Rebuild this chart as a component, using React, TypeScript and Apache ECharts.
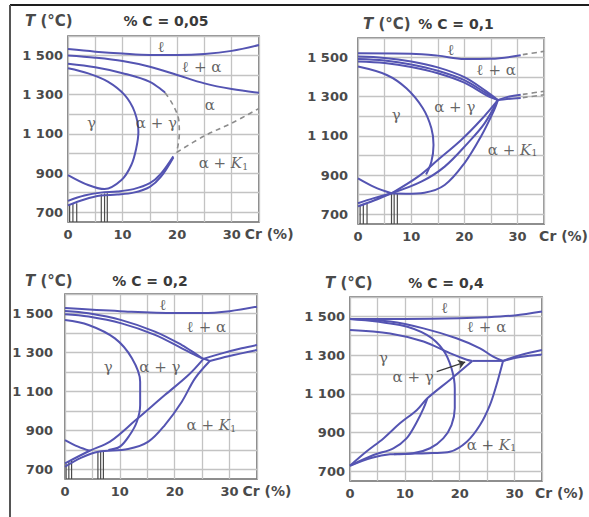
import { useEffect, useRef } from "react";
import * as echarts from "echarts";

// ---------------- DATA ----------------
const yLabelValues = [700, 900, 1100, 1300, 1500];
const xLabelValues = [0, 10, 20, 30];
const panelTitles = ["% C = 0,05", "% C = 0,1", "% C = 0,2", "% C = 0,4"];

// Panel 1 : % C = 0,05
const p1Liquidus = [[0, 1533], [5, 1520], [10, 1510], [15, 1503], [20, 1503], [25, 1508], [30, 1524], [35, 1554]];
const p1Solidus = [[0, 1500], [5, 1489], [10, 1472], [15, 1443], [20, 1401], [25, 1358], [30, 1329], [35, 1310]];
const p1GammaTop = [[0, 1458], [5, 1440], [10, 1410], [15, 1366], [17.8, 1310]];
const p1GammaLoop = [[0, 1435], [3.7, 1409], [7.3, 1367], [10.4, 1298], [12.2, 1213], [12.9, 1111], [12.5, 1026], [11.6, 941], [9.8, 864], [6.7, 818], [3.7, 839], [0, 890]];
const p1Low1 = [[0, 758], [3, 785], [6, 800], [9, 806], [12, 818], [15, 848], [17, 895], [19.3, 985]];
const p1Low2 = [[0, 735], [3, 765], [6, 785], [9, 790], [12, 800], [15, 830], [17, 880], [19.3, 980]];
const p1DashA = [[17.8, 1310], [19.2, 1250], [20.3, 1170], [20.4, 1100], [19.9, 1005]];
const p1DashB = [[19.9, 1005], [25, 1090], [30, 1155], [35, 1230]];
const p1Hatch = [[0.3, 738], [0.9, 742], [1.6, 746], [6.1, 792], [6.7, 795], [7.2, 797]];
const p1Labels = [[17.1, 1545, "ℓ"], [24.5, 1443, "ℓ + α"], [26, 1247, "α"], [4.3, 1154, "γ"], [16.2, 1154, "α + γ"], [28.5, 949, "α + {k|K}{s|1}"]];

// Panel 2 : % C = 0,1
const p2Liquidus = [[0, 1522], [10, 1520], [15, 1510], [20, 1493], [25, 1494], [30.6, 1512]];
const p2LiquidusDash = [[31, 1515], [35, 1532]];
const p2Band1 = [[0, 1505], [5, 1498], [10, 1480], [15, 1450], [20, 1400], [24, 1330], [26.3, 1283]];
const p2Band2 = [[0, 1493], [5, 1485], [10, 1465], [15, 1433], [20, 1385], [24, 1320], [26.3, 1283]];
const p2Band3 = [[0, 1480], [5, 1472], [10, 1452], [15, 1420], [20, 1372], [24, 1310], [26.3, 1283]];
const p2GammaLoop = [[0, 1454], [5.4, 1411], [9.1, 1343], [12.2, 1241], [13.8, 1139], [14.2, 1054], [13.8, 968], [12.8, 903]];
const p2GammaLow = [[0, 883], [3, 840], [6.3, 807]];
const p2Left1 = [[0, 756], [3, 782], [6.3, 807]];
const p2Left2 = [[0, 740], [3, 770], [6.3, 807]];
const p2DiagA = [[6.3, 807], [11.3, 892], [15, 977], [19.4, 1079], [23.1, 1181], [26.3, 1283]];
const p2DiagB = [[6.3, 807], [11.9, 866], [16.3, 943], [20.6, 1062], [23.8, 1164], [26.3, 1283]];
const p2DiagC = [[6.3, 807], [9, 805], [12.5, 810], [16.3, 849], [20, 960], [23.1, 1096], [25.6, 1232], [26.3, 1283]];
const p2Right1 = [[26.3, 1283], [28, 1298], [30.6, 1310]];
const p2Right2 = [[26.3, 1283], [28, 1288], [30.6, 1293]];
const p2RightDash1 = [[31, 1312], [35, 1328]];
const p2RightDash2 = [[31, 1295], [35, 1310]];
const p2Hatch = [[0.4, 748], [1.0, 752], [1.7, 756], [6.3, 805], [6.8, 806], [7.4, 806]];
const p2Labels = [[17.5, 1539, "ℓ"], [26, 1437, "ℓ + α"], [18.2, 1249, "α + γ"], [7.2, 1207, "γ"], [29.1, 1028, "α + {k|K}{s|1}"]];

// Panel 3 : % C = 0,2
const p3Liquidus = [[0, 1528], [10, 1512], [20, 1502], [25, 1502], [30, 1512], [35, 1535]];
const p3Pair1 = [[0, 1513], [4.3, 1501], [10.3, 1466], [16.4, 1407], [21.3, 1338], [23.7, 1295], [25.2, 1266]];
const p3Pair2 = [[0, 1496], [4.3, 1484], [10.3, 1449], [16.4, 1390], [21.3, 1321], [24.3, 1278], [26.4, 1256]];
const p3GammaLoop = [[0, 1466], [4.3, 1441], [9.1, 1372], [12.2, 1270], [13.7, 1150], [13.7, 1030], [13.1, 944], [11.8, 876], [10, 816], [7.9, 799]];
const p3GammaLow = [[0, 850], [2.4, 816], [4.5, 795]];
const p3Diag = [[0, 730], [4.5, 795], [8.2, 842], [12.8, 950], [18.2, 1081], [22.5, 1184], [25.2, 1266]];
const p3SCurve = [[0, 713], [3, 760], [6.1, 790], [11.5, 804], [15.2, 842], [18.2, 927], [21.3, 1047], [23.7, 1167], [26.4, 1256]];
const p3Right1 = [[25.2, 1266], [28.6, 1295], [32.2, 1321], [35, 1338]];
const p3Right2 = [[26.4, 1256], [29.8, 1280], [35, 1312]];
const p3Hatch = [[0.2, 730], [0.7, 738], [1.2, 745], [6.0, 790], [6.5, 791], [7.0, 792]];
const p3Labels = [[17.9, 1544, "ℓ"], [25.8, 1432, "ℓ + α"], [7.9, 1227, "γ"], [17.3, 1227, "α + γ"], [26.7, 927, "α + {k|K}{s|1}"]];

// Panel 4 : % C = 0,4
const p4Liquidus = [[0, 1487], [10, 1487], [20, 1490], [25, 1495], [30, 1505], [35, 1525]];
const p4Solidus = [[0, 1487], [7.3, 1473], [13.4, 1438], [19.4, 1387], [23.7, 1335], [26.1, 1292], [27.9, 1270]];
const p4GammaBig = [[0, 1487], [9.1, 1455], [14, 1404], [17, 1326], [18.5, 1232], [19.1, 1128], [19.1, 1025], [18.5, 939], [17, 870], [14.6, 819], [11.5, 793], [8, 788]];
const p4Upper = [[0, 1430], [7.3, 1412], [13.4, 1370], [18.2, 1310], [21.3, 1276], [22.3, 1270]];
const p4Flat = [[22.3, 1270], [27.9, 1270]];
const p4Diag = [[0, 729], [3, 802], [6.1, 870], [9.1, 948], [12.2, 1017], [14.1, 1077], [18.2, 1172], [22.3, 1270]];
const p4Lens = [[0, 729], [4.3, 784], [7.9, 819], [10.3, 870], [12.2, 956], [13.4, 1025], [14.1, 1077]];
const p4Bottom = [[0, 729], [4, 770], [7.3, 788], [12, 792], [15, 794], [18.2, 801], [21.3, 853], [23.7, 939], [25.5, 1042], [26.7, 1146], [27.9, 1270]];
const p4Right1 = [[27.9, 1270], [31, 1300], [35, 1326]];
const p4Right2 = [[27.9, 1270], [31, 1290], [35, 1303]];
const p4Arrow = [[15.8, 1215], [21, 1264]];
const p4Labels = [[17.3, 1541, "ℓ"], [24.9, 1447, "ℓ + α"], [6.1, 1283, "γ"], [11.5, 1189, "α + γ"], [25.8, 836, "α + {k|K}{s|1}"]];

// ---------------- LAYOUT / STYLE ----------------
const W = 589;
const H = 517;
const grids = [
  { left: 68, top: 36, width: 191, height: 186 },
  { left: 358, top: 38, width: 187, height: 186 },
  { left: 65, top: 294, width: 192, height: 185 },
  { left: 350, top: 297, width: 192, height: 184 },
];
const yLabelMargin = [5, 10, 12, 5];
const nameGaps = [-16, -5, -17, -7];
const titlePos = [
  { tx: 25, cx: 166, y: 21 },
  { tx: 363, cx: 456, y: 24 },
  { tx: 25, cx: 150, y: 281 },
  { tx: 325, cx: 446, y: 283 },
];

const CURVE = "#5454b2";
const GRIDC = "#c3c3c3";
const TEXT = "#3c3c3c";
const SANS = "DejaVu Sans";
const SERIF = "DejaVu Serif";

function fmtT(v: number) {
  const s = String(v);
  return s.length > 3 ? s.slice(0, s.length - 3) + " " + s.slice(-3) : s;
}

function curve(panel: number, data: number[][], dashed = false): any {
  return {
    type: "line",
    xAxisIndex: panel,
    yAxisIndex: panel,
    data,
    smooth: 0.35,
    symbol: "none",
    silent: true,
    z: 3,
    lineStyle: dashed
      ? { color: "#8c8c8c", width: 1.6, type: [5, 4] }
      : { color: CURVE, width: 2 },
  };
}

function hatches(panel: number, pts: number[][]): any[] {
  return pts.map(([x, top]) => ({
    type: "line",
    xAxisIndex: panel,
    yAxisIndex: panel,
    data: [[x, 650], [x, top]],
    symbol: "none",
    silent: true,
    z: 2,
    lineStyle: { color: "#4a4a4a", width: 1.2 },
  }));
}

function labels(panel: number, pts: any[]): any {
  return {
    type: "scatter",
    xAxisIndex: panel,
    yAxisIndex: panel,
    symbolSize: 0,
    silent: true,
    z: 5,
    data: pts.map(([x, y, t]) => ({ value: [x, y], name: t })),
    label: {
      show: true,
      position: "inside",
      formatter: "{b}",
      color: TEXT,
      fontFamily: SERIF,
      fontSize: 15,
      rich: {
        k: { fontFamily: SERIF, fontStyle: "italic", fontSize: 15, color: TEXT },
        s: { fontFamily: SERIF, fontSize: 10, color: TEXT, verticalAlign: "bottom", padding: [6, 0, 0, 0] },
      },
    },
  };
}

function buildOption(): any {
  const xAxis = grids.map((_, i) => ({
    type: "value",
    gridIndex: i,
    min: 0,
    max: 35,
    interval: 5,
    axisLine: { show: false },
    axisTick: { show: false },
    splitLine: { show: true, lineStyle: { color: GRIDC, width: 1.3 } },
    axisLabel: {
      margin: 6,
      color: "#4a4a4a",
      fontFamily: SANS,
      fontWeight: "bold",
      fontSize: 13,
      formatter: (v: number) => (xLabelValues.includes(v) ? String(v) : ""),
    },
    name: "Cr (%)",
    nameLocation: "end",
    nameGap: nameGaps[i],
    nameTextStyle: {
      color: "#4a4a4a",
      fontFamily: SANS,
      fontWeight: "bold",
      fontSize: 14,
      align: "left",
      verticalAlign: "top",
      padding: [5, 0, 0, 0],
    },
  }));
  const yAxis = grids.map((_, i) => ({
    type: "value",
    gridIndex: i,
    min: 650,
    max: 1600,
    interval: 50,
    axisLine: { show: false },
    axisTick: { show: false },
    splitLine: { show: true, lineStyle: { color: ["rgba(0,0,0,0)", GRIDC], width: 1.3 } },
    axisLabel: {
      margin: yLabelMargin[i],
      color: "#4a4a4a",
      fontFamily: SANS,
      fontWeight: "bold",
      fontSize: 13,
      formatter: (v: number) => (yLabelValues.includes(v) ? fmtT(v) : ""),
    },
  }));

  const series: any[] = [
    // panel 1
    curve(0, p1Liquidus), curve(0, p1Solidus), curve(0, p1GammaTop), curve(0, p1GammaLoop),
    curve(0, p1Low1), curve(0, p1Low2), curve(0, p1DashA, true), curve(0, p1DashB, true),
    ...hatches(0, p1Hatch), labels(0, p1Labels),
    // panel 2
    curve(1, p2Liquidus), curve(1, p2LiquidusDash, true), curve(1, p2Band1), curve(1, p2Band2), curve(1, p2Band3),
    curve(1, p2GammaLoop), curve(1, p2GammaLow), curve(1, p2Left1), curve(1, p2Left2),
    curve(1, p2DiagA), curve(1, p2DiagB), curve(1, p2DiagC), curve(1, p2Right1), curve(1, p2Right2),
    curve(1, p2RightDash1, true), curve(1, p2RightDash2, true),
    ...hatches(1, p2Hatch), labels(1, p2Labels),
    // panel 3
    curve(2, p3Liquidus), curve(2, p3Pair1), curve(2, p3Pair2), curve(2, p3GammaLoop), curve(2, p3GammaLow),
    curve(2, p3Diag), curve(2, p3SCurve), curve(2, p3Right1), curve(2, p3Right2),
    ...hatches(2, p3Hatch), labels(2, p3Labels),
    // panel 4
    curve(3, p4Liquidus), curve(3, p4Solidus), curve(3, p4GammaBig), curve(3, p4Upper), curve(3, p4Flat),
    curve(3, p4Diag), curve(3, p4Lens), curve(3, p4Bottom), curve(3, p4Right1), curve(3, p4Right2),
    {
      type: "lines",
      coordinateSystem: "cartesian2d",
      xAxisIndex: 3,
      yAxisIndex: 3,
      silent: true,
      z: 4,
      symbol: ["none", "arrow"],
      symbolSize: 7,
      lineStyle: { color: "#3a3a3a", width: 1.2, opacity: 1 },
      data: [{ coords: p4Arrow }],
    },
    labels(3, p4Labels),
  ];

  const graphic: any[] = [
    { type: "line", shape: { x1: 10, y1: 5, x2: W, y2: 5 }, style: { stroke: "#1e1e1e", lineWidth: 2 } },
    { type: "line", shape: { x1: 10, y1: 5, x2: 10, y2: H }, style: { stroke: "#555", lineWidth: 2 } },
  ];
  titlePos.forEach((p, i) => {
    graphic.push({
      type: "text",
      x: p.tx,
      y: p.y,
      style: {
        text: "{t|T} (°C)",
        rich: { t: { fontStyle: "italic", fontFamily: SANS, fontWeight: "bold", fontSize: 15, fill: "#4a4a4a" } },
        fontFamily: SANS,
        fontWeight: "bold",
        fontSize: 15,
        fill: "#4a4a4a",
        verticalAlign: "middle",
        align: "left",
      },
    });
    graphic.push({
      type: "text",
      x: p.cx,
      y: p.y,
      style: {
        text: panelTitles[i],
        fontFamily: SANS,
        fontWeight: "bold",
        fontSize: 14,
        fill: "#3a3a3a",
        align: "center",
        verticalAlign: "middle",
      },
    });
  });

  return {
    animation: false,
    backgroundColor: "#ffffff",
    grid: grids.map((g) => ({ ...g, show: true, borderColor: "#6a6a6a", borderWidth: 1.6, containLabel: false })),
    xAxis,
    yAxis,
    series,
    graphic,
  };
}

export default function App() {
  const ref = useRef<HTMLDivElement>(null);
  useEffect(() => {
    if (!ref.current) return;
    const chart = echarts.init(ref.current, undefined, { renderer: "svg" });
    chart.setOption(buildOption());
    return () => chart.dispose();
  }, []);
  return (
    <div
      ref={ref}
      style={{ position: "absolute", left: 0, top: 0, width: W, height: H, background: "#fff" }}
    />
  );
}
